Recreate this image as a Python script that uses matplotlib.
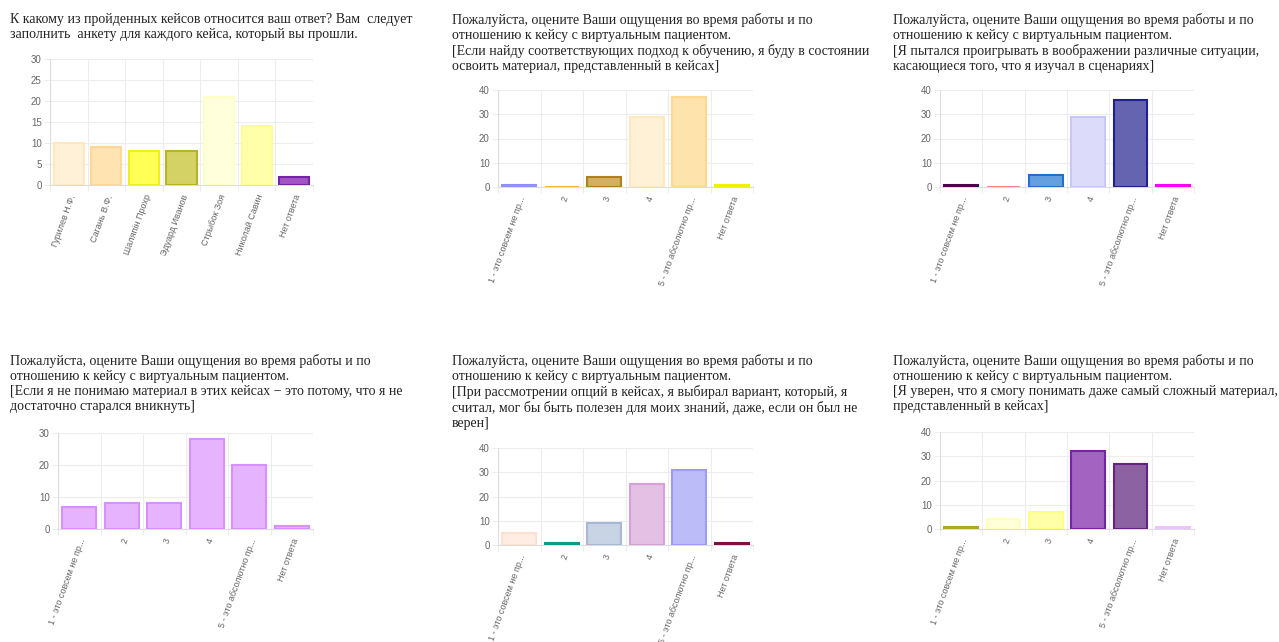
import numpy as np
from matplotlib import pyplot as plt

W, H = 1279, 642

scale_labels = ['1 - это совсем не пр...', '2', '3', '4', '5 - это абсолютно пр...', 'Нет ответа']
case_labels = ['Гурилев Н.Ф.', 'Сагань В.Ф.', 'Шаляпін Прохр', 'Эдуард Иванов',
               'Стрыбок Зоя', 'Николай Савин', 'Нет ответа']

lead = ('Пожалуйста, оцените Ваши ощущения во время работы и по\n'
        'отношению к кейсу с виртуальным пациентом.\n')
titles = [
    'К какому из пройденных кейсов относится ваш ответ? Вам  следует\n'
    'заполнить  анкету для каждого кейса, который вы прошли.',
    lead + '[Если найду соответствующих подход к обучению, я буду в состоянии\n'
           'освоить материал, представленный в кейсах]',
    lead + '[Я пытался проигрывать в воображении различные ситуации,\n'
           'касающиеся того, что я изучал в сценариях]',
    lead + '[Если я не понимаю материал в этих кейсах − это потому, что я не\n'
           'достаточно старался вникнуть]',
    lead + '[При рассмотрении опций в кейсах, я выбирал вариант, который, я\n'
           'считал, мог бы быть полезен для моих знаний, даже, если он был не\n'
           'верен]',
    lead + '[Я уверен, что я смогу понимать даже самый сложный материал,\n'
           'представленный в кейсах]',
]

values_cases = [10, 9, 8, 8, 21, 14, 2]
values_q1 = [1, 0, 4, 29, 37, 1]
values_q2 = [1, 0, 5, 29, 36, 1]
values_q3 = [7, 8, 8, 28, 20, 1]
values_q4 = [5, 1, 9, 25, 31, 1]
values_q5 = [1, 4, 7, 32, 27, 1]

fills = [
    ['#fff1d8', '#ffe3b0', '#ffff55', '#d4d265', '#ffffdc', '#ffffaa', '#a455c4'],
    ['#a8a8ff', '#ffc850', '#d2b060', '#fff1d6', '#ffe3ac', '#ffff40'],
    ['#700070', '#ff9c9c', '#64a0e0', '#dcdcfa', '#6464b0', '#ff10ff'],
    ['#e6b4ff'] * 6,
    ['#ffede4', '#20b0a0', '#c8d4e4', '#e4c0e4', '#bcbcf8', '#902050'],
    ['#c8c040', '#ffffd8', '#ffffa8', '#a264c0', '#8c62a2', '#f2d4ff'],
]
edges = [
    ['#ffe8c0', '#ffd898', '#eeee20', '#b8b420', '#ffffc8', '#ffff90', '#7424a4'],
    ['#9090ff', '#ffb830', '#b08020', '#ffe8c0', '#ffd890', '#f0f000'],
    ['#500050', '#ff8888', '#2070d0', '#c8c8f8', '#202090', '#ff00ff'],
    ['#d890ff'] * 6,
    ['#ffe0d0', '#109888', '#a8b8d8', '#d8a0d8', '#9c9cf4', '#801040'],
    ['#b0a820', '#ffffc0', '#ffff80', '#7424a4', '#642284', '#ecc4ff'],
]

series = [values_cases, values_q1, values_q2, values_q3, values_q4, values_q5]
cats = [case_labels] + [scale_labels] * 5
ymax = [30, 40, 40, 30, 40, 40]
ystep = [5, 10, 10, 10, 10, 10]

# pixel boxes: x0, x1, ytop, ybottom
boxes = [(50, 313, 59, 185), (498, 753, 90, 187), (940, 1194, 90, 187),
         (58, 313, 433, 529), (498, 753, 448, 545), (940, 1194, 432, 529)]
title_pos = [(10, 13), (452, 13), (893, 13), (10, 354), (452, 354), (893, 354)]

fig = plt.figure(figsize=(W / 100, H / 100), dpi=100)
fig.patch.set_facecolor('white')

grid_c = '#ededed'
for i in range(6):
    x0, x1, yt, yb = boxes[i]
    ax = fig.add_axes([x0 / W, 1 - yb / H, (x1 - x0) / W, (yb - yt) / H])
    vals = series[i]
    n = len(vals)
    x = np.arange(n)
    ax.bar(x, vals, width=0.8, color=fills[i], edgecolor=edges[i], linewidth=1.5, zorder=3)
    ax.set_xlim(-0.5, n - 0.5)
    ax.set_ylim(0, ymax[i])
    ax.set_yticks(np.arange(0, ymax[i] + 1, ystep[i]))
    ax.set_xticks(x)
    ax.set_xticks(np.arange(n + 1) - 0.5, minor=True)
    ax.set_xticklabels(cats[i], rotation=70, ha='right', rotation_mode='anchor',
                       fontsize=6.5, color='#666666', family='Liberation Sans')
    for lab in ax.get_yticklabels():
        lab.set_fontsize(7)
        lab.set_color('#666666')
        lab.set_family('Liberation Sans')
    ax.tick_params(axis='x', which='major', length=0, pad=6)
    ax.tick_params(axis='x', which='minor', length=4, color=grid_c, width=0.8)
    ax.tick_params(axis='y', length=4, color=grid_c, width=0.8, pad=2)
    ax.grid(True, axis='y', color=grid_c, linewidth=0.8, zorder=0)
    ax.grid(True, axis='x', which='minor', color=grid_c, linewidth=0.8, zorder=0)
    for s in ['top', 'right']:
        ax.spines[s].set_visible(False)
    for s in ['left', 'bottom']:
        ax.spines[s].set_color('#dddddd')
        ax.spines[s].set_linewidth(0.8)

    tx, ty = title_pos[i]
    fig.text(tx / W, 1 - ty / H, titles[i], ha='left', va='top', fontsize=10,
             family='Liberation Serif', color='#222222', linespacing=1.2)

fig.savefig('out.png', dpi=100)
